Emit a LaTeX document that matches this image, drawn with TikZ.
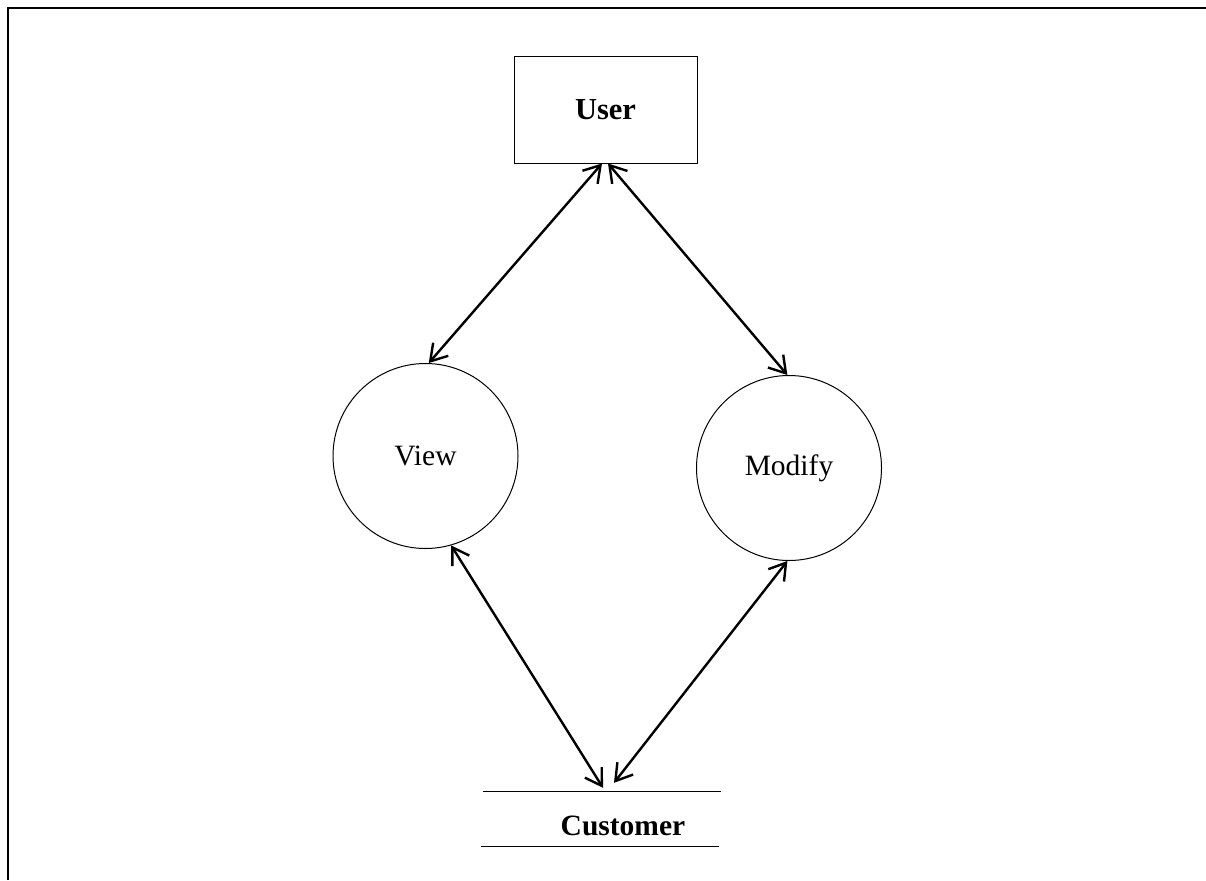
\documentclass[tikz,border=0pt]{standalone}
\usepackage{fontspec}
\setmainfont{Liberation Serif}
\usetikzlibrary{arrows.meta}
\begin{document}
\begin{tikzpicture}[x=1pt,y=-1pt,
  txt/.style={font=\fontsize{29.5}{34}\selectfont, inner sep=0pt},
  entity/.style={draw, line width=1pt, minimum width=183pt, minimum height=106pt, inner sep=0pt, font=\fontsize{30.5}{34}\selectfont\bfseries},
  proc/.style={draw, circle, line width=1pt, minimum size=185pt, inner sep=0pt, font=\fontsize{29.5}{34}\selectfont},
  storebox/.style={minimum width=238pt, minimum height=54pt, inner sep=0pt},
  flow/.style={line width=2.4pt, {Straight Barb[length=16pt,width=20pt,line width=2.4pt]}-{Straight Barb[length=16pt,width=20pt,line width=2.4pt]}}
]
\useasboundingbox (0,0) rectangle (1206,880);
\fill[white] (0,0) rectangle (1206,880);
\draw[line width=2.2pt] (8,880) -- (8,8) -- (1206,8);

\node[entity] (user) at (605.5,110) {User};
\node[proc] (view) at (425.5,456) {View};
\node[proc] (modify) at (789,468) {Modify};
\node[storebox] (cust) at (602,819) {};
\node[txt, font=\fontsize{29.5}{34}\selectfont\bfseries] (custlabel) at (623,826) {Customer};
\draw[line width=1pt] (cust.north west) -- (cust.north east);
\draw[line width=1pt] ([xshift=-2pt]cust.south west) -- ([xshift=-2pt]cust.south east);

\draw[flow] ([xshift=-3.5pt]user.south) -- (view.88);
\draw[flow] ([xshift=2.5pt]user.south) -- (modify.91);
\draw[flow] (view.-74) -- ([xshift=1pt,yshift=4pt]cust.north);
\draw[flow] (modify.-91) -- ([xshift=12pt,yshift=9pt]cust.north);
\end{tikzpicture}
\end{document}
